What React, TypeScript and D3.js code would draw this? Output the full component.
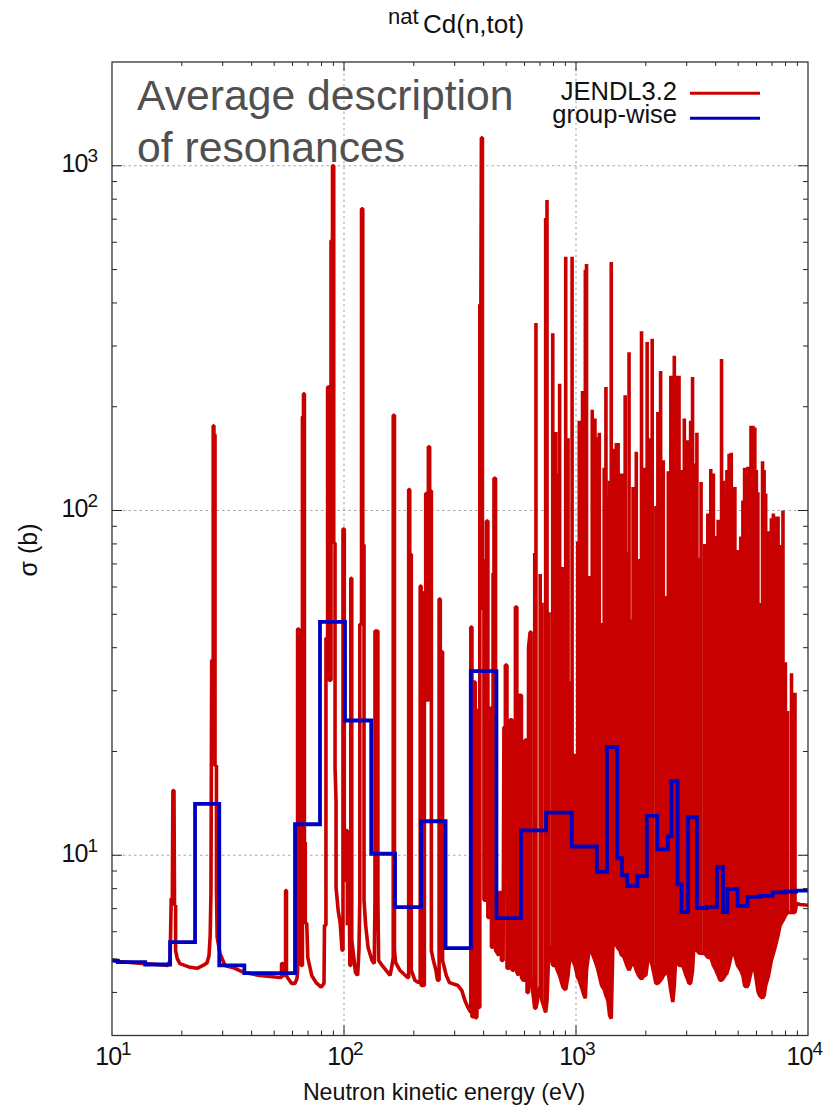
import React from "react";
import * as d3 from "d3";

const W = 823;
const H = 1110;
const FONT = "'Liberation Sans', Arial, sans-serif";

// JENDL3.2: isolated resonances below about 650 eV (polyline, eV / barn)
const lowEnergy = [
  10, 10.6, 13.9, 17.4, 17.8, 18.0, 18.2, 18.3, 18.5, 18.6,
  18.8, 18.8, 19.1, 19.6, 21.7, 23.3, 24.7, 25.7, 26.2, 26.5,
  26.7, 26.9, 27.3, 27.3, 27.5, 27.5, 27.8, 27.8, 28.2, 28.2,
  28.4, 29.2, 30.7, 33.9, 36.7, 43.4, 52.9, 53.8, 53.8, 54.5,
  54.5, 56, 56, 56.5, 56.5, 57.4, 59.5, 61.5, 62.7, 63.1,
  63.1, 64, 64, 65.3, 65.3, 66.2, 66.2, 66.9, 66.9, 67.5,
  67.5, 68.1, 68.1, 69.1, 69.8, 72.6, 75.8, 79.7, 82, 82.4,
  83.6, 83.6, 85, 85, 86.1, 86.1, 87.9, 87.9, 89.2, 89.2,
  90.3, 90.3, 91.5, 91.5, 92.4, 92.4, 94.4, 96.3, 98.1, 99,
  99, 100.3, 100.3, 102, 102, 103.4, 103.4, 105, 106, 107,
  107, 108, 108, 110, 112, 114.5, 116, 117, 117, 119,
  119, 120.5, 120.5, 122, 122, 124, 127, 132, 135, 136,
  136, 140, 140, 141, 146, 158, 161, 163, 163, 165,
  165, 167, 174, 188, 190, 190, 192, 192, 195, 195,
  202, 210, 213, 213, 215, 215, 222, 222, 225, 225,
  227, 227, 231, 231, 234, 234, 236, 236, 238, 238,
  242, 249, 253, 257, 257, 260, 260, 266, 266, 276,
  285, 310, 322, 332, 342, 352, 352, 356, 356, 361,
  361, 368, 368, 374, 374, 380, 380, 385, 385, 389,
  391, 395, 395, 401, 401, 407, 407, 411, 411, 417,
  417, 423, 423, 432, 432, 439, 439, 443, 443, 450,
  450, 465, 465, 477, 477, 485, 489, 496, 496, 504,
  504, 516, 520, 530, 530, 540, 540, 548, 548, 556,
  556, 565, 568, 582, 582, 591, 603, 603, 615, 615,
  624, 624, 634, 640, 640,
];
const lowSigma = [
  4.97, 4.92, 4.85, 4.79, 4.95, 7.5, 7.5, 15.4, 15.4, 7.16,
  7.16, 5.3, 5.02, 4.85, 4.73, 4.7, 4.79, 4.88, 5.12, 5.86,
  7.75, 36.8, 36.8, 176, 176, 166, 166, 18.2, 18.2, 7.9,
  5.78, 5.19, 4.79, 4.7, 4.58, 4.48, 4.42, 4.42, 4.85, 4.85,
  4.48, 4.48, 7.9, 7.9, 4.48, 4.39, 4.25, 4.25, 4.39, 4.58,
  45.3, 45.3, 40.2, 40.2, 4.79, 4.79, 187, 187, 218, 218,
  10.9, 10.9, 6.35, 6.35, 5.05, 4.48, 4.27, 4.14, 4.25, 6.26,
  6.26, 42.6, 42.6, 228, 228, 32.2, 32.2, 606, 606, 1000,
  1000, 80.5, 80.5, 17.9, 14.4, 8.07, 6.9, 6.35, 5.3, 5.3,
  88.4, 88.4, 8.46, 8.46, 11.8, 11.8, 6.26, 10.35, 4.79, 4.79,
  63.6, 63.6, 5.67, 5.12, 4.58, 4.48, 5.3, 7.41, 46.8, 46.8,
  750, 750, 79.4, 79.4, 7.41, 6.26, 5.4, 4.95, 4.85, 7.41,
  44.7, 44.7, 7.41, 4.95, 4.79, 4.48, 4.79, 5.05, 189, 189,
  5.3, 4.88, 4.64, 4.42, 4.42, 115, 115, 74.7, 74.7, 4.64,
  4.34, 4.27, 4.34, 60.4, 60.4, 4.19, 4.19, 58, 58, 112,
  112, 28.2, 28.2, 153, 153, 28.2, 28.2, 114, 114, 5.3,
  5.0, 4.64, 4.34, 4.34, 55.4, 55.4, 38.9, 38.9, 4.95, 4.48,
  4.27, 4.19, 4.05, 3.79, 3.62, 3.5, 45.9, 45.9, 3.4, 3.4,
  31.8, 31.8, 3.36, 3.4, 26.3, 26.3, 3.62, 3.62, 395, 395,
  1206, 1206, 51.8, 51.8, 7.41, 7.41, 72.3, 72.3, 93.2, 93.2,
  6.6, 6.6, 26.7, 26.7, 5.41, 5.41, 65.9, 65.9, 124, 124,
  5.3, 5.12, 7.8, 7.8, 4.95, 4.95, 23.5, 23.5, 35.6, 35.6,
  4.7, 4.7, 24.7, 24.7, 4.64, 4.64, 16.2, 16.2, 52.5, 52.5,
  4.58, 4.48, 29.1, 29.1, 4.42, 4.34, 4.34, 21.6, 21.6, 4.0,
  4.0, 39.9, 44.4, 44.4, 4.42,
];

// JENDL3.2: unresolved forest of resonances (energy, spike top, spike floor)
const denseEnergy = [
  664, 672, 701, 713, 740, 750, 765, 794, 818, 831,
  850, 879, 903, 924, 944, 962, 990, 1017, 1033, 1050,
  1067, 1083, 1097, 1110, 1145, 1175, 1207, 1235, 1260, 1290,
  1323, 1346, 1373, 1396, 1419, 1443, 1470, 1492, 1519, 1545,
  1571, 1600, 1629, 1656, 1693, 1727, 1762, 1792, 1819, 1861,
  1916, 1960, 2000, 2026, 2067, 2102, 2130, 2210, 2254, 2316,
  2346, 2378, 2440, 2500, 2563, 2614, 2653, 2690, 2730, 2780,
  2830, 2880, 2930, 2980, 3020, 3070, 3120, 3180, 3220, 3270,
  3320, 3390, 3460, 3590, 3700, 3810, 3910, 4010, 4100, 4170,
  4240, 4310, 4390, 4470, 4570, 4670, 4750, 4840, 4970, 5130,
  5240, 5330, 5430, 5510, 5600, 5680, 5790, 5900, 5990, 6080,
  6180, 6370, 6470, 6570, 6760, 6950, 7090, 7250, 7430, 7580,
  7800, 7990, 8160, 8490, 8790,
];
const denseTop = [
  75.3, 350, 65.4, 54, 706, 796, 50.7, 327, 169, 128,
  233, 68.6, 545, 162, 31.9, 545, 19.7, 81.3, 182, 149,
  222, 149, 499, 519, 64.6, 196, 185, 163, 168, 47.2,
  133, 228, 109, 122, 526, 151, 151, 157, 157, 92,
  128, 128, 216, 75.6, 288, 48.3, 117, 117, 148, 72.3,
  331, 133, 107, 308, 162, 162, 315, 103, 193, 254,
  107, 140, 56.5, 130, 246, 210, 281, 246, 246, 246,
  128, 131, 185, 160, 160, 160, 182, 244, 137, 137,
  168, 73, 121, 80, 98, 132, 128, 84.3, 94, 94,
  275, 122, 112, 131, 146, 147, 117, 117, 76.8, 84,
  107, 133, 133, 134, 131, 176, 176, 174, 131, 113,
  53.9, 139, 131, 112, 87, 95, 98, 96, 96, 79.4,
  100, 36.3, 26.2, 33.7, 29.6,
];
const denseFloor = [
  3.6, 3.6, 4.19, 3.79, 3.5, 3.79, 5.48, 4.79, 4.79, 4.64,
  4.48, 4.14, 4.07, 4.48, 5.2, 5.0, 4.79, 4.42, 4.34, 4.19,
  4.05, 3.92, 3.85, 4.64, 5.48, 5.19, 4.95, 4.73, 4.48, 4.19,
  4.08, 3.92, 3.79, 3.43, 3.36, 5.55, 5.67, 5.48, 5.37, 5.3,
  5.12, 5.12, 4.95, 4.79, 4.64, 4.79, 4.88, 4.79, 4.64, 4.48,
  4.37, 4.48, 4.48, 4.79, 5.12, 5.0, 4.79, 4.25, 4.25, 4.34,
  4.39, 4.48, 4.55, 4.55, 4.05, 3.75, 4.19, 5.0, 4.95, 4.79,
  4.79, 4.79, 4.64, 4.48, 4.39, 4.25, 4.25, 4.64, 5.41, 5.3,
  5.3, 5.2, 5.2, 5.19, 5.05, 5.05, 4.79, 4.64, 4.48, 4.34,
  4.34, 4.39, 4.48, 4.55, 4.79, 5.12, 5.19, 5.12, 4.79, 4.64,
  4.48, 4.19, 4.14, 4.19, 4.39, 4.58, 4.73, 4.64, 4.34, 4.05,
  3.92, 3.85, 3.92, 4.19, 4.48, 4.95, 5.19, 5.48, 5.86, 6.26,
  6.47, 6.69, 6.82, 6.82, 6.82,
];

// JENDL3.2: flat tail above the last resonance
const tailEnergy = [8930, 9240, 10000];
const tailSigma = [7.25, 7.2, 7.16];

// Group-wise cross section: group boundaries (eV) and one value per group (b)
const groupEdges = [
  10, 10.6, 13.9, 17.8, 22.8, 29, 37.2, 61.5, 78.8, 101,
  131, 166, 215, 274, 352, 454, 579, 743, 959, 1230,
  1360, 1505, 1580, 1660, 1840, 2020, 2240, 2490, 2580, 2740,
  2850, 3040, 3320, 3670, 4050, 4300, 4490, 4970, 5490, 6210,
  7040, 8020, 8880, 10000,
];
const groupSigma = [
  4.95, 4.9, 4.82, 5.6, 14.1, 4.79, 4.55, 12.3, 47.5, 24.6,
  10.1, 7.07, 12.55, 5.38, 34.2, 6.57, 11.8, 13.3, 10.6, 8.95,
  20.6, 9.8, 8.75, 8.14, 8.7, 13.0, 10.4, 11.35, 16.4, 8.23,
  6.84, 12.9, 7.03, 7.08, 9.25, 6.84, 7.97, 7.13, 7.57, 7.62,
  7.8, 7.85, 7.9,
];

const xDecades = [10, 100, 1000, 10000];
const yDecades = [10, 100, 1000];
const xExponents = ["1", "2", "3", "4"];
const yExponents = ["1", "2", "3"];
const minorMultipliers = [2, 3, 4, 5, 6, 7, 8, 9];

const legendItems = [
  { label: "JENDL3.2", color: "#c80000" },
  { label: "group-wise", color: "#0000c0" },
];
const noteLines = ["Average description", "of resonances"];

export default function App() {
  const left = 112, right = 808, top = 62, bottom = 1035.5;
  const x = d3.scaleLog().domain([10, 10000]).range([left, right]);
  const y = d3.scaleLog().domain([3, 2000]).range([bottom, top]);
  const line = d3.line<[number, number]>().x((d) => x(d[0])).y((d) => y(d[1]));

  const redPts: [number, number][] = lowEnergy.map((e, i) => [e, lowSigma[i]] as [number, number]);
  denseEnergy.forEach((e, i) => {
    redPts.push([e, denseFloor[i]], [e, denseTop[i]], [e, denseFloor[i]]);
  });
  tailEnergy.forEach((e, i) => redPts.push([e, tailSigma[i]]));

  const bluePts: [number, number][] = [];
  groupSigma.forEach((s, i) => {
    bluePts.push([groupEdges[i], s], [groupEdges[i + 1], s]);
  });

  const xMinor: number[] = [];
  xDecades.slice(0, 3).forEach((d) => minorMultipliers.forEach((m) => xMinor.push(d * m)));
  const yMinorTicks: number[] = [];
  [1, 10, 100, 1000].forEach((d) =>
    minorMultipliers.forEach((m) => {
      const v = d * m;
      if (v > 3 && v < 2000) yMinorTicks.push(v);
    })
  );

  const minorLen = 5, majorLen = 10;
  const tickColor = "#222";

  return (
    <svg
      width={W}
      height={H}
      viewBox={`0 0 ${W} ${H}`}
      style={{ position: "absolute", left: 0, top: 0, background: "#fff" }}
      fontFamily={FONT}
    >
      {/* grid */}
      <g stroke="#a8a8a8" strokeWidth={1.1} strokeDasharray="2.5 3" fill="none">
        {xDecades.slice(1, 3).map((d) => (
          <line key={d} x1={x(d)} x2={x(d)} y1={top} y2={bottom} />
        ))}
        {yDecades.map((d) => (
          <line key={d} x1={left} x2={right} y1={y(d)} y2={y(d)} />
        ))}
      </g>

      {/* note */}
      <g fontSize={42.7} fill="#505050">
        {noteLines.map((t, i) => (
          <text key={t} x={137} y={110 + i * 51.5}>{t}</text>
        ))}
      </g>

      {/* curves */}
      <path
        d={line(redPts) || ""}
        fill="none"
        stroke="#c80000"
        strokeWidth={3.6}
        strokeLinejoin="bevel"
      />
      <path
        d={line(bluePts) || ""}
        fill="none"
        stroke="#0000c0"
        strokeWidth={3.8}
        strokeLinejoin="miter"
      />

      {/* ticks */}
      <g stroke={tickColor} strokeWidth={1} fill="none">
        {xMinor.map((v) => (
          <g key={v}>
            <line x1={x(v)} x2={x(v)} y1={bottom} y2={bottom - minorLen} />
            <line x1={x(v)} x2={x(v)} y1={top} y2={top + minorLen - 1} />
          </g>
        ))}
        {xDecades.slice(1, 3).map((v) => (
          <g key={v}>
            <line x1={x(v)} x2={x(v)} y1={bottom} y2={bottom - majorLen} />
            <line x1={x(v)} x2={x(v)} y1={top} y2={top + majorLen - 1} />
          </g>
        ))}
        {yMinorTicks.map((v) => (
          <g key={v}>
            <line x1={left} x2={left + minorLen} y1={y(v)} y2={y(v)} />
            <line x1={right} x2={right - minorLen} y1={y(v)} y2={y(v)} />
          </g>
        ))}
        {yDecades.map((v) => (
          <g key={v}>
            <line x1={left} x2={left + majorLen} y1={y(v)} y2={y(v)} />
            <line x1={right} x2={right - majorLen} y1={y(v)} y2={y(v)} />
          </g>
        ))}
      </g>

      {/* frame */}
      <rect x={left} y={top} width={right - left} height={bottom - top} fill="none" stroke="#333" strokeWidth={1.3} />

      {/* y tick labels */}
      {yDecades.map((v, i) => (
        <text key={v} x={97} y={y(v) + 6.5} textAnchor="end" fontSize={25} fill="#111" letterSpacing={-1}>
          10<tspan fontSize={19} dy={-10}>{yExponents[i]}</tspan>
        </text>
      ))}
      {/* x tick labels */}
      {xDecades.map((v, i) => {
        const lastOne = i === xDecades.length - 1;
        return (
          <text
            key={v}
            x={lastOne ? 822 : x(v) + 1}
            y={1065}
            textAnchor={lastOne ? "end" : "middle"}
            fontSize={25}
            fill="#111"
            letterSpacing={-1}
          >
            10<tspan fontSize={19} dy={-10}>{xExponents[i]}</tspan>
          </text>
        );
      })}

      {/* title and axis labels */}
      <text y={33} fontSize={26} fill="#111">
        <tspan x={388} fontSize={22} dy={-9}>nat</tspan>
        <tspan x={423} dy={9}>Cd(n,tot)</tspan>
      </text>
      <text x={444} y={1100} textAnchor="middle" fontSize={23.2} fill="#111">
        Neutron kinetic energy (eV)
      </text>
      <text
        transform={`translate(37,550) rotate(-90)`}
        textAnchor="middle"
        fontSize={25}
        fill="#111"
      >
        σ (b)
      </text>

      {/* legend */}
      {legendItems.map((it, i) => (
        <g key={it.label}>
          <text x={677} y={99.5 + i * 23.5} textAnchor="end" fontSize={25.5} fill="#111">
            {it.label}
          </text>
          <line x1={690} x2={760} y1={93.3 + i * 25} y2={93.3 + i * 25} stroke={it.color} strokeWidth={3} />
        </g>
      ))}
    </svg>
  );
}
